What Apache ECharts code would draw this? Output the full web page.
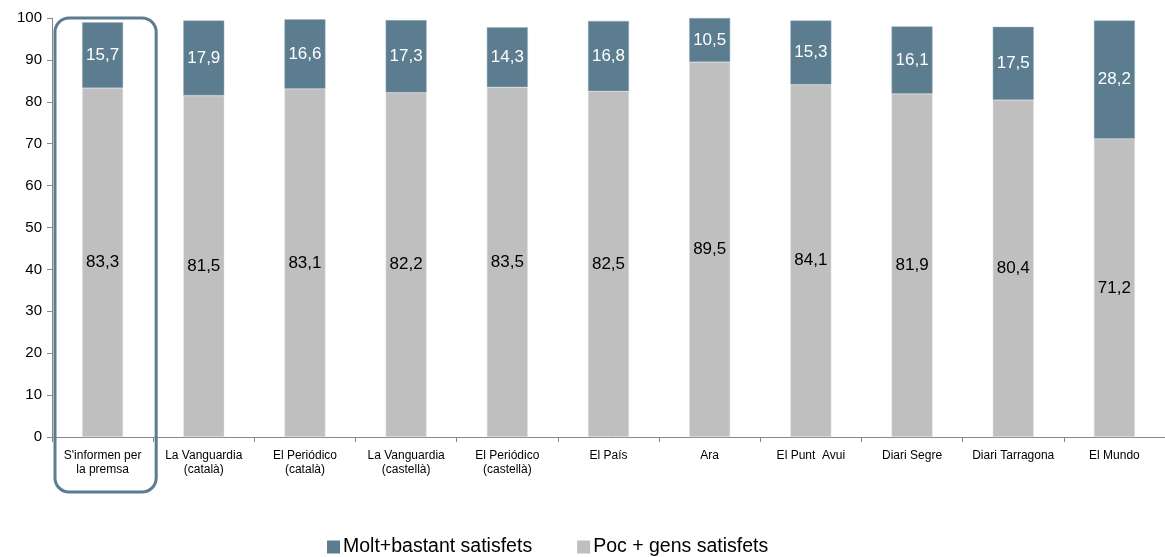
<!DOCTYPE html>
<html><head><meta charset="utf-8">
<script src="https://cdn.jsdelivr.net/npm/echarts@6/dist/echarts.min.js"></script>
<style>html,body{margin:0;padding:0;background:#fff}#c{width:1165px;height:557px}</style>
</head><body><div id="c"></div>
<script>
const categories = ["S'informen per\nla premsa","La Vanguardia\n(català)","El Periódico\n(català)","La Vanguardia\n(castellà)","El Periódico\n(castellà)","El País","Ara","El Punt  Avui","Diari Segre","Diari Tarragona","El Mundo"];
const pocGens = [83.3,81.5,83.1,82.2,83.5,82.5,89.5,84.1,81.9,80.4,71.2];
const moltBastant = [15.7,17.9,16.6,17.3,14.3,16.8,10.5,15.3,16.1,17.5,28.2];
const yTicks = [0,10,20,30,40,50,60,70,80,90,100];
const highlightIndex = 0;

const font = '"Liberation Sans", Arial, sans-serif';
const fmt = p => String(p.value).replace('.', ',');
const chart = echarts.init(document.getElementById('c'));
chart.setOption({
  animation:false,
  textStyle:{fontFamily:font},
  grid:{left:52,right:0,top:18,bottom:120,containLabel:false},
  legend:{bottom:-5,left:322,itemWidth:13,itemHeight:13,itemGap:45,icon:'rect',
    itemStyle:{borderWidth:0},
    data:['Molt+bastant satisfets','Poc + gens satisfets'],
    textStyle:{fontSize:19.5,color:'#000',fontFamily:font,padding:[0,0,0,-2]}},
  xAxis:{type:'category',data:categories,
    axisLine:{lineStyle:{color:'#888',width:1}},
    axisTick:{show:true,alignWithLabel:false,length:5,lineStyle:{color:'#888'}},
    axisLabel:{color:'#000',fontSize:12,lineHeight:14,margin:12,interval:0}},
  yAxis:{type:'value',min:0,max:100,interval:10,
    axisLine:{show:true,lineStyle:{color:'#888'}},
    axisTick:{show:true,length:5,lineStyle:{color:'#888'}},
    splitLine:{show:false},
    axisLabel:{color:'#000',fontSize:15,margin:10,
      formatter:v=>yTicks.includes(v)?String(v):''}},
  series:[
    {name:'Poc + gens satisfets',type:'bar',stack:'a',data:pocGens,barWidth:41,
     itemStyle:{color:'#bfbfbf',borderColor:'#e6e6e6',borderWidth:0.5},
     label:{show:true,position:'inside',color:'#000',fontSize:17,formatter:fmt}},
    {name:'Molt+bastant satisfets',type:'bar',stack:'a',data:moltBastant,barWidth:41,
     itemStyle:{color:'#5b7d8f',borderColor:'#9fb3bd',borderWidth:0.5},
     label:{show:true,position:'inside',color:'#fff',fontSize:17,formatter:fmt}}
  ]
});
// highlight box around first category, derived from axis scale
const c0 = chart.convertToPixel({xAxisIndex:0}, highlightIndex);
const c1 = chart.convertToPixel({xAxisIndex:0}, highlightIndex+1);
const band = c1 - c0;
const yTop = chart.convertToPixel({yAxisIndex:0}, 100);
chart.setOption({graphic:[{type:'rect',z:100,
  shape:{x:c0-band/2+3,y:yTop,width:band,height:492-yTop,r:14},
  style:{fill:'none',stroke:'#5b7d8f',lineWidth:3}}]});
</script></body></html>
